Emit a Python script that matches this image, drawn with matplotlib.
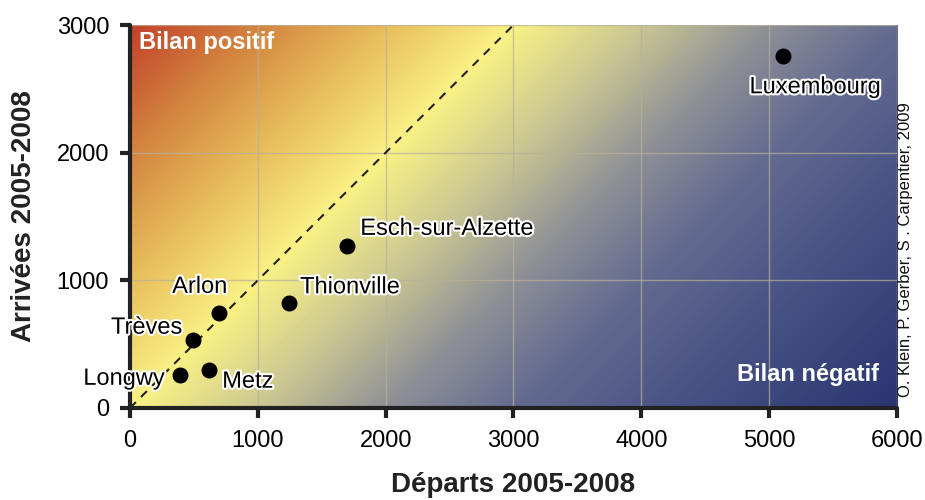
import numpy as np
import matplotlib.pyplot as plt
import matplotlib.patheffects as pe
from matplotlib.colors import LinearSegmentedColormap

plt.rcParams['font.family'] = ['Liberation Sans', 'DejaVu Sans']

# donnees
villes = ['Luxembourg', 'Esch-sur-Alzette', 'Thionville', 'Arlon', 'Trèves', 'Longwy', 'Metz']
departs = [5110, 1700, 1245, 695, 495, 390, 620]
arrivees = [2755, 1270, 820, 745, 535, 260, 300]

# decalage des etiquettes (pixels) et alignement
decal = [(32, -31, 'center'), (13, 17, 'left'), (11, 16, 'left'), (-19, 26, 'center'),
         (-11, 12, 'right'), (-15, -4, 'right'), (13, -12, 'left')]

# fond degrade selon (arrivees - departs)
stops_d = [-6000, -4500, -3000, -2000, -1000, 0, 1000, 2000, 3000]
stops_c = ['#2A3571', '#434E82', '#646B90', '#8F9096', '#CAC792', '#FAF185',
           '#E8BE5C', '#D3843F', '#C3402A']
pos = [(d - stops_d[0]) / (stops_d[-1] - stops_d[0]) for d in stops_d]
cmap = LinearSegmentedColormap.from_list('bilan', list(zip(pos, stops_c)))

fig = plt.figure(figsize=(9.25, 5), dpi=100)
ax = fig.add_axes([0.1405, 0.184, 0.8292, 0.766])

gx, gy = np.meshgrid(np.linspace(0, 6000, 600), np.linspace(0, 3000, 300))
ax.imshow(gy - gx, extent=(0, 6000, 0, 3000), origin='lower', cmap=cmap,
          vmin=stops_d[0], vmax=stops_d[-1], aspect='auto', zorder=0)

ax.set_xlim(0, 6000)
ax.set_ylim(0, 3000)
ax.set_xticks(range(0, 6001, 1000))
ax.set_yticks(range(0, 3001, 1000))
ax.grid(True, color='#b8b09a', linewidth=1, alpha=0.7, zorder=1)

ax.plot([0, 3000], [0, 3000], color='#222222', linestyle=(0, (4, 3.5)), linewidth=1.5, zorder=2)
ax.scatter(departs, arrivees, s=110, color='black', zorder=4)

for v, x, y, (dx, dy, ha) in zip(villes, departs, arrivees, decal):
    ax.annotate(v, (x, y), xytext=(dx, dy), textcoords='offset pixels', ha=ha, va='center',
                fontsize=17, color='black', zorder=5,
                path_effects=[pe.withStroke(linewidth=3, foreground='white')])

ax.text(0.012, 0.955, 'Bilan positif', transform=ax.transAxes, color='white',
        fontsize=17, fontweight='bold', ha='left', va='center')
ax.text(0.976, 0.088, 'Bilan négatif', transform=ax.transAxes, color='white',
        fontsize=17, fontweight='bold', ha='right', va='center')

for s in ['top', 'right']:
    ax.spines[s].set_visible(False)
for s in ['left', 'bottom']:
    ax.spines[s].set_linewidth(3)
    ax.spines[s].set_color('#222222')
    ax.spines[s].set_capstyle('round')
ax.tick_params(width=3, length=7, color='#222222', labelsize=17)
ax.tick_params(axis='x', pad=9)
ax.tick_params(axis='y', pad=8)

ax.set_xlabel('Départs 2005-2008', fontsize=20, fontweight='bold', color='#222222', labelpad=14)
ax.set_ylabel('Arrivées 2005-2008', fontsize=20, fontweight='bold', color='#222222', labelpad=14)

fig.text(0.979, 0.5, 'O. Klein, P. Gerber, S . Carpentier, 2009', rotation=90,
         fontsize=12, ha='center', va='center', color='#111111')

fig.savefig('out.png', dpi=100)
